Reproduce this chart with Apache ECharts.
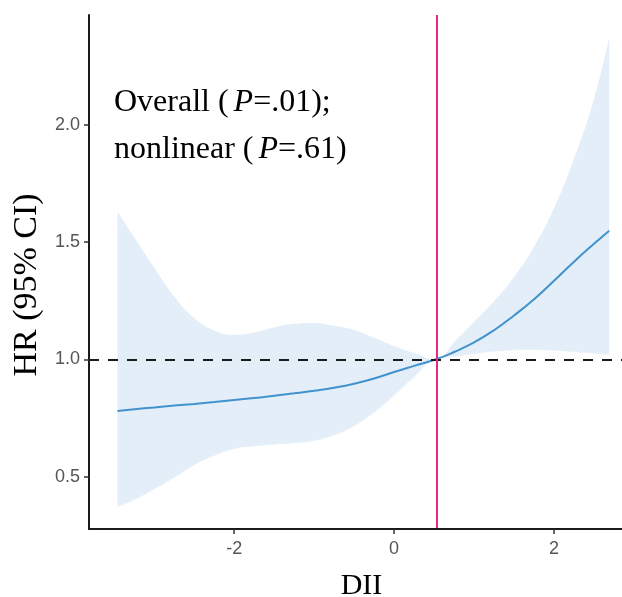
<!DOCTYPE html>
<html>
<head>
<meta charset="utf-8">
<script src="https://cdn.jsdelivr.net/npm/echarts@6/dist/echarts.min.js"></script>
<style>html,body{margin:0;padding:0;background:#fff;}#c{width:622px;height:597px;}</style>
</head>
<body>
<div id="c"></div>
<script>
// DII values (x)
const dii   = [-3.46, -3.25, -3.0, -2.75, -2.5, -2.25, -2.0, -1.75, -1.5, -1.25, -1.0, -0.75, -0.5, -0.25, 0.0, 0.25, 0.525, 0.75, 1.0, 1.25, 1.5, 1.75, 2.0, 2.25, 2.5, 2.69];
// HR estimate
const hr    = [0.780, 0.787, 0.795, 0.803, 0.810, 0.818, 0.827, 0.835, 0.845, 0.855, 0.866, 0.879, 0.896, 0.918, 0.946, 0.972, 1.000, 1.031, 1.072, 1.124, 1.187, 1.256, 1.335, 1.416, 1.492, 1.548];
// 95% CI lower bound
const lower = [0.372, 0.400, 0.445, 0.494, 0.548, 0.588, 0.617, 0.628, 0.636, 0.641, 0.652, 0.675, 0.715, 0.772, 0.845, 0.922, 1.000, 1.010, 1.022, 1.032, 1.038, 1.040, 1.036, 1.030, 1.024, 1.018];
// 95% CI upper bound
const upper = [1.629, 1.520, 1.390, 1.268, 1.176, 1.123, 1.104, 1.114, 1.136, 1.151, 1.155, 1.143, 1.125, 1.092, 1.057, 1.027, 1.000, 1.073, 1.159, 1.248, 1.351, 1.480, 1.645, 1.855, 2.110, 2.370];
const refX = 0.525;   // vertical reference (magenta)
const refY = 1.0;     // HR = 1 reference
const xTicks = [-2, 0, 2];
const yTicks = [0.5, 1.0, 1.5, 2.0];

const chart = echarts.init(document.getElementById('c'), null, {renderer: 'canvas'});
const lowerData = dii.map((x, i) => [x, lower[i]]);
const upperData = dii.map((x, i) => [x, upper[i]]);
const hrData    = dii.map((x, i) => [x, hr[i]]);
const serif = '"Liberation Serif", "Times New Roman", serif';
const sans = 'Arial, "Liberation Sans", sans-serif';

chart.setOption({
  animation: false,
  backgroundColor: '#ffffff',
  grid: {left: 89, top: 15, right: 0, bottom: 68, containLabel: false, outerBoundsMode: 'none'},
  xAxis: {
    type: 'value', min: -3.816, max: 2.85, z: 10,
    name: 'DII', nameLocation: 'middle', nameGap: 42,
    nameTextStyle: {fontFamily: serif, fontSize: 30, color: '#000', padding: [0, 0, 0, 12]},
    splitLine: {show: false},
    axisLine: {show: true, onZero: false, lineStyle: {color: '#1a1a1a', width: 2}},
    axisTick: {show: true, length: 5, customValues: xTicks, lineStyle: {color: '#333', width: 1.5}},
    axisLabel: {customValues: xTicks, margin: 11, fontFamily: sans, fontSize: 18, color: '#555',
      formatter: v => String(v)}
  },
  yAxis: {
    type: 'value', min: 0.277, max: 2.467, z: 10,
    splitLine: {show: false},
    axisLine: {show: true, onZero: false, lineStyle: {color: '#1a1a1a', width: 2}},
    axisTick: {show: true, length: 5, customValues: yTicks, lineStyle: {color: '#333', width: 1.5}},
    axisLabel: {customValues: yTicks, margin: 9, fontFamily: sans, fontSize: 18, color: '#555',
      formatter: v => v.toFixed(1)}
  },
  graphic: [
    {type: 'text', x: 27, y: 285, rotation: Math.PI / 2,
     style: {text: 'HR (95% CI)', fontFamily: serif, fontSize: 34, fill: '#000', align: 'center', verticalAlign: 'middle'}},
    {type: 'text', left: 114, top: 87,
     style: {text: 'Overall ({i|P}=.01);', fontFamily: serif, fontSize: 32, fill: '#000',
       rich: {i: {fontFamily: serif, fontSize: 32, fontStyle: 'italic', fill: '#000', padding: [0, 0, 0, 5]}}}},
    {type: 'text', left: 114, top: 134,
     style: {text: 'nonlinear ({i|P}=.61)', fontFamily: serif, fontSize: 32, fill: '#000',
       rich: {i: {fontFamily: serif, fontSize: 32, fontStyle: 'italic', fill: '#000', padding: [0, 0, 0, 5]}}}}
  ],
  series: [
    // upper CI: light blue fill down to the bottom of the plot
    {type: 'line', data: upperData, symbol: 'none', smooth: 0.5,
     lineStyle: {opacity: 0}, areaStyle: {color: '#e3eef8', opacity: 1, origin: 'start'}, silent: true, z: 1},
    // lower CI: white fill down to the bottom, leaving the band between the bounds
    {type: 'line', data: lowerData, symbol: 'none', smooth: 0.5,
     lineStyle: {opacity: 0},
     areaStyle: {color: '#ffffff', opacity: 1, origin: 'start', shadowColor: '#ffffff', shadowBlur: 2},
     silent: true, z: 2},
    {type: 'line', data: hrData, symbol: 'none', smooth: 0.5, z: 3,
     lineStyle: {color: '#4292ce', width: 2},
     markLine: {silent: true, symbol: 'none', label: {show: false},
       lineStyle: {color: '#1a1a1a', width: 2, type: [10, 9]},
       data: [{yAxis: refY}]}},
    {type: 'line', data: [], z: 4,
     markLine: {silent: true, symbol: 'none', label: {show: false},
       lineStyle: {color: '#e7298a', width: 2, type: 'solid'},
       data: [{xAxis: refX}]}}
  ]
});
</script>
</body>
</html>
